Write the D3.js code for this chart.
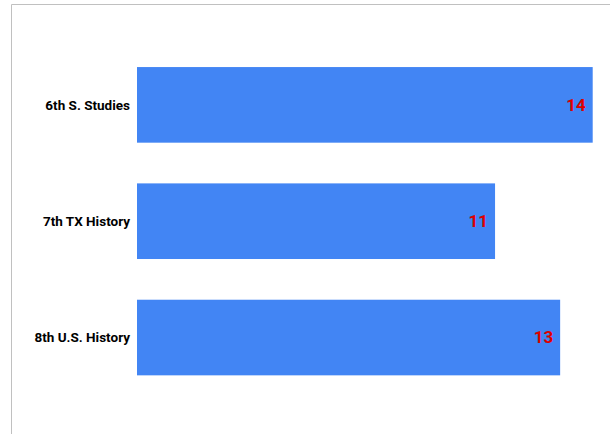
<!DOCTYPE html>
<html>
<head>
<meta charset="utf-8">
<script src="https://cdn.jsdelivr.net/npm/d3@7"></script>
<style>
  body { margin: 0; background: #fff; }
  .cat-label { font-family: Roboto, sans-serif; font-weight: bold; font-size: 13.5px; fill: #000; }
  .val-label { font-family: Roboto, sans-serif; font-weight: bold; font-size: 17px; fill: #dd0000; }
</style>
</head>
<body>
<div id="chart-div"></div>
<script>
const categories = ["6th S. Studies", "7th TX History", "8th U.S. History"];
const counts = [14, 11, 13];
const maxCount = 14;

const svgDims = { width: 610, height: 434 };

const svg = d3.select("#chart-div")
    .append("svg")
    .attr("width", svgDims.width)
    .attr("height", svgDims.height);

// frame lines (top and left)
svg.append("line")
    .attr("x1", 11.5).attr("x2", svgDims.width)
    .attr("y1", 4.5).attr("y2", 4.5)
    .attr("stroke", "#c0c0c0");
svg.append("line")
    .attr("x1", 11.5).attr("x2", 11.5)
    .attr("y1", 4.5).attr("y2", svgDims.height)
    .attr("stroke", "#c0c0c0");

const xScale = d3.scaleLinear()
    .domain([0, maxCount])
    .range([137, 592.7]);

const yScale = d3.scaleBand()
    .domain(categories)
    .range([46.7, 395.7])
    .paddingInner(0.35)
    .paddingOuter(0.175);

const data = categories.map((c, i) => ({ cat: c, value: counts[i] }));

// bars
svg.selectAll("rect.bar").data(data).enter().append("rect")
    .attr("class", "bar")
    .attr("x", xScale(0))
    .attr("y", d => yScale(d.cat))
    .attr("width", d => xScale(d.value) - xScale(0))
    .attr("height", yScale.bandwidth())
    .style("fill", "#4285f4");

// category labels
svg.selectAll("text.cat-label").data(data).enter().append("text")
    .attr("class", "cat-label")
    .attr("x", xScale(0) - 7)
    .attr("y", d => yScale(d.cat) + yScale.bandwidth() / 2)
    .attr("dy", "0.35em")
    .attr("text-anchor", "end")
    .text(d => d.cat);

// value labels inside bar ends
svg.selectAll("text.val-label").data(data).enter().append("text")
    .attr("class", "val-label")
    .attr("x", d => xScale(d.value) - 7)
    .attr("y", d => yScale(d.cat) + yScale.bandwidth() / 2)
    .attr("dy", "0.35em")
    .attr("text-anchor", "end")
    .text(d => d.value);
</script>
</body>
</html>
